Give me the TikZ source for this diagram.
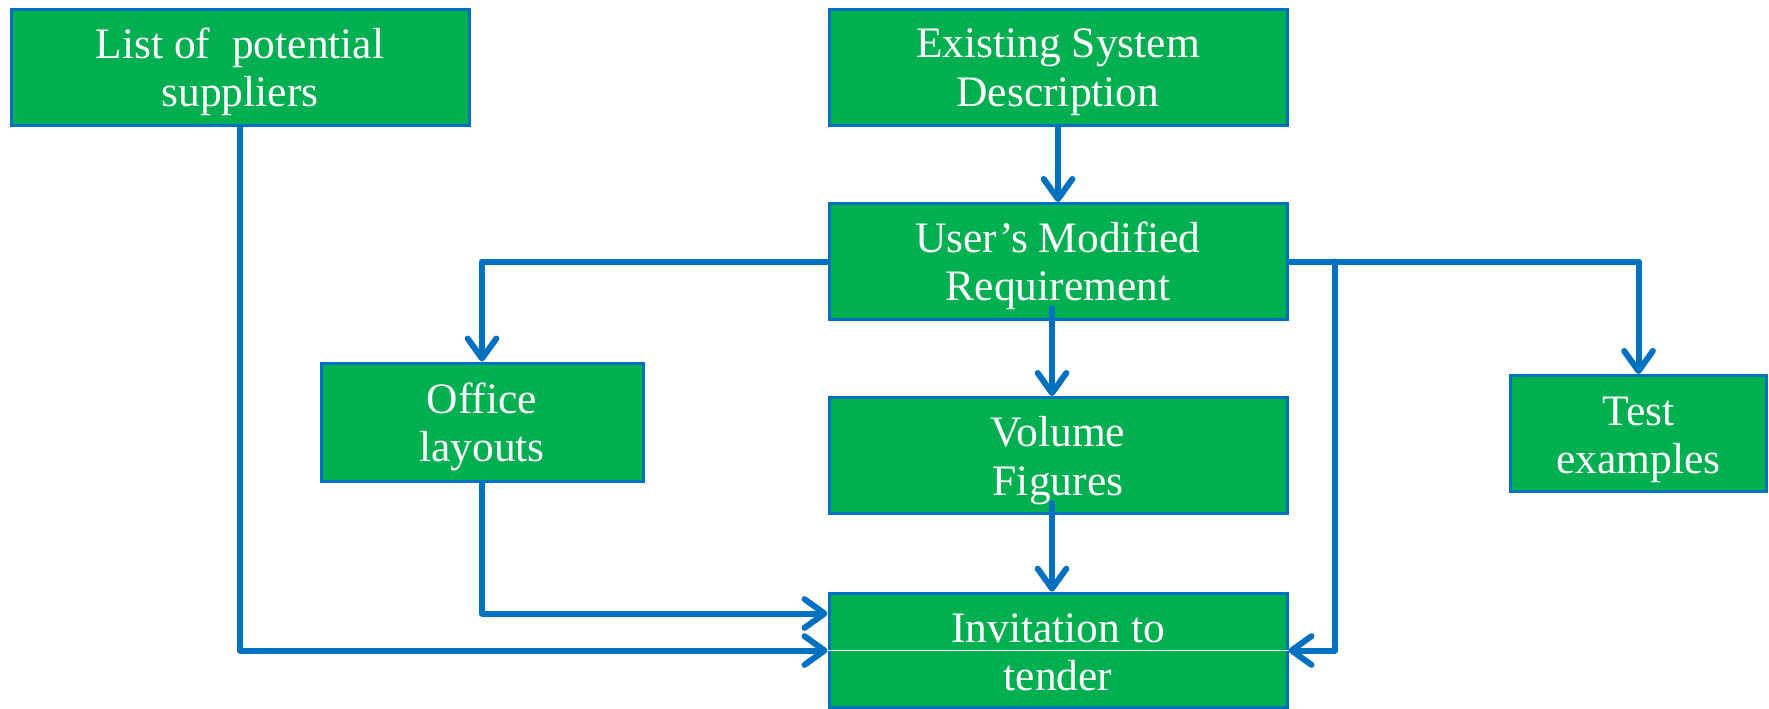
\documentclass[tikz,border=0pt]{standalone}
\usepackage{fontspec}
\setmainfont{Liberation Serif}
\usetikzlibrary{arrows.meta,calc}
\definecolor{boxgreen}{HTML}{00B050}
\definecolor{linkblue}{HTML}{0070C0}
\tikzset{
  stagebox/.style={draw=linkblue, line width=2.25pt, fill=boxgreen,
    inner sep=0pt, minimum width=343.5pt, minimum height=87pt},
  stagetext/.style={text=white, align=center, inner sep=0pt,
    font=\fontsize{32.6}{36.3}\selectfont},
  link/.style={draw=linkblue, line width=4.5pt, line cap=round, line join=round},
  arr/.style={link, -{Straight Barb[length=15pt,width=21.5pt,line width=4.5pt,round]}}
}
\begin{document}
\begin{tikzpicture}[x=0.75pt,y=-0.75pt]
\useasboundingbox (0,0) rectangle (1769,708);

% stage boxes
\node[stagebox] (list)   at (240,67)     {};
\node[stagebox] (exist)  at (1058,67)    {};
\node[stagebox] (user)   at (1058,261.5) {};
\node[stagebox, minimum width=241.5pt, minimum height=88.5pt] (office) at (482,422) {};
\node[stagebox] (volume) at (1058,455.5) {};
\node[stagebox, minimum width=192pt] (test) at (1638.5,433.5) {};
\node[stagebox, minimum height=86pt] (invite) at (1058,650.5) {};
\draw[white, line width=1.1pt] (invite.west) -- (invite.east);

% box captions
\node[stagetext] (list-t)   at ([yshift=-3.6pt]list)   {List of~ potential\\suppliers};
\node[stagetext] (exist-t)  at ([yshift=-3.8pt]exist)  {Existing System\\Description};
\node[stagetext] (user-t)   at ([yshift=-3.3pt]user)   {User’s Modified\\Requirement};
\node[stagetext] (office-t) at ([yshift=-3.8pt]office) {Office\\layouts};
\node[stagetext] (volume-t) at ([yshift=-3.8pt]volume) {Volume\\Figures};
\node[stagetext] (test-t)   at ([yshift=-5pt]test)     {Test\\examples};
\node[stagetext] (invite-t) at ([yshift=-1.5pt]invite) {Invitation to\\tender};

% branch point on the right-hand feed line
\coordinate (branch) at (1335,261.5);

% connectors
\draw[arr] (exist.south) -- (user.north);
\draw[arr] (user.west) -| (office.north);
\draw[arr] (user.east) -| (test.north);
\draw[arr] ($(user.south)+(-6,-13)$) -- ($(volume.north)+(-6,0)$);
\draw[arr] (branch) |- (invite.east);
\draw[arr] ($(volume.south)+(-6,-12)$) -- ($(invite.north)+(-6,0)$);
\draw[arr] (office.south) |- ($(invite.west)+(0,-37)$);
\draw[arr] (list.south) |- (invite.west);
\end{tikzpicture}
\end{document}
